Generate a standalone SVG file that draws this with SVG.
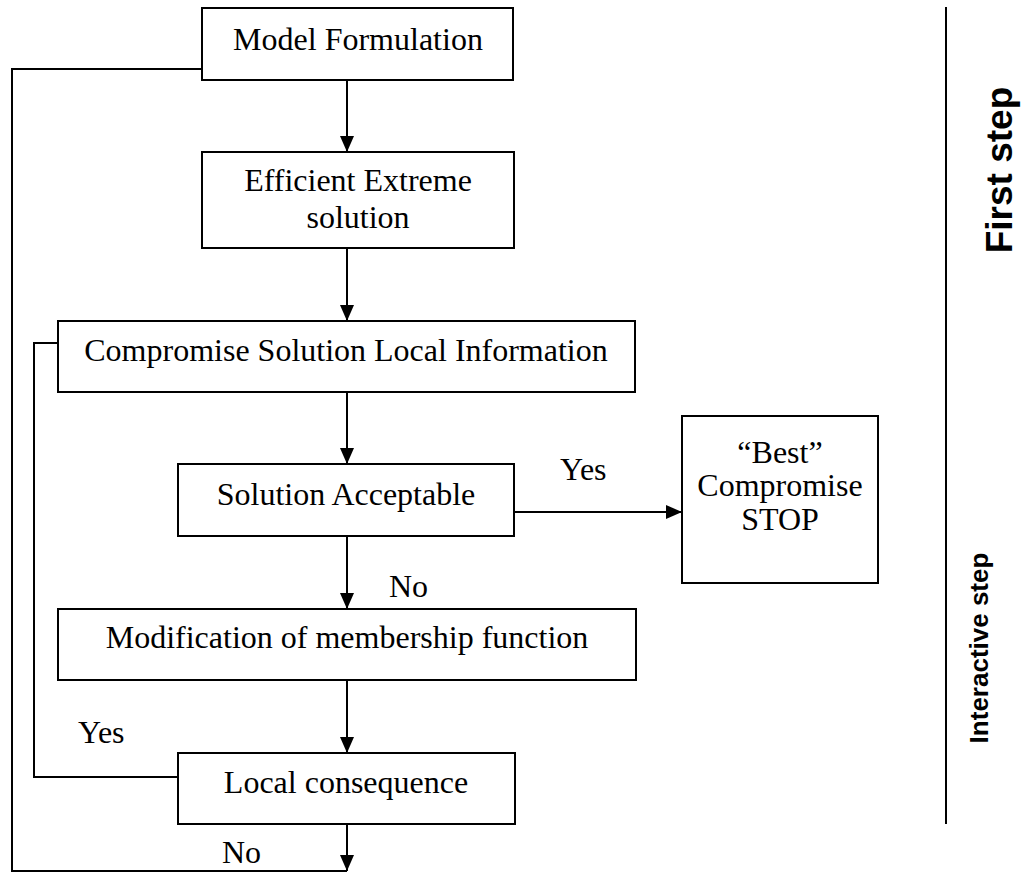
<svg xmlns="http://www.w3.org/2000/svg" width="1021" height="873" viewBox="0 0 1021 873">
  <style>
    .box { fill: #fff; stroke: #000; stroke-width: 2; }
    .wire { fill: none; stroke: #000; stroke-width: 2; }
  </style>
  <defs>
    <marker id="arrow" viewBox="0 0 16 14" refX="16" refY="7" markerWidth="16" markerHeight="14" markerUnits="userSpaceOnUse" orient="auto">
      <path d="M0,0 L16,7 L0,14 Z" fill="#000"/>
    </marker>
  </defs>

  <rect width="1021" height="873" fill="#fff"/>

  <g font-family="'Liberation Serif', 'Times New Roman', Times, serif" font-size="32" fill="#000">
    <!-- connectors -->
    <g id="connectors">
      <line class="wire" x1="347" y1="80" x2="347" y2="152" marker-end="url(#arrow)"/>
      <line class="wire" x1="347" y1="248" x2="347" y2="321" marker-end="url(#arrow)"/>
      <line class="wire" x1="347" y1="392" x2="347" y2="464" marker-end="url(#arrow)"/>
      <line class="wire" x1="347" y1="536" x2="347" y2="609" marker-end="url(#arrow)"/>
      <line class="wire" x1="347" y1="680" x2="347" y2="753" marker-end="url(#arrow)"/>
      <line class="wire" x1="347" y1="824" x2="347" y2="871" marker-end="url(#arrow)"/>
      <line class="wire" x1="514" y1="512" x2="682" y2="512" marker-end="url(#arrow)"/>
      <!-- outer return loop from model formulation -->
      <polyline class="wire" points="202,69 12,69 12,871 347,871"/>
      <!-- inner loop back to compromise solution -->
      <polyline class="wire" points="178,777 34,777 34,343 58,343"/>
      <text x="560" y="480">Yes</text>
      <text x="389" y="597">No</text>
      <text x="78" y="743">Yes</text>
      <text x="222" y="863">No</text>
    </g>

    <g id="model-formulation" text-anchor="middle">
      <rect class="box" x="202" y="8" width="311" height="72"/>
      <text x="358" y="50">Model Formulation</text>
    </g>

    <g id="efficient-extreme" text-anchor="middle">
      <rect class="box" x="202" y="152" width="312" height="96"/>
      <text x="358" y="191">Efficient Extreme</text>
      <text x="358" y="228">solution</text>
    </g>

    <g id="compromise-solution" text-anchor="middle">
      <rect class="box" x="58" y="321" width="577" height="71"/>
      <text x="346" y="361">Compromise Solution Local Information</text>
    </g>

    <g id="solution-acceptable" text-anchor="middle">
      <rect class="box" x="178" y="464" width="336" height="72"/>
      <text x="346" y="505">Solution Acceptable</text>
    </g>

    <g id="best-compromise" text-anchor="middle">
      <rect class="box" x="682" y="416" width="196" height="167"/>
      <text x="780" y="463">“Best”</text>
      <text x="780" y="496">Compromise</text>
      <text x="780" y="530">STOP</text>
    </g>

    <g id="modification" text-anchor="middle">
      <rect class="box" x="58" y="609" width="578" height="71"/>
      <text x="347" y="648">Modification of membership function</text>
    </g>

    <g id="local-consequence" text-anchor="middle">
      <rect class="box" x="178" y="753" width="337" height="71"/>
      <text x="346" y="793">Local consequence</text>
    </g>
  </g>

  <!-- phase divider and labels -->
  <g id="phases" font-family="'Liberation Sans', Arial, sans-serif" font-weight="bold" fill="#000" text-anchor="middle">
    <line x1="946" y1="7" x2="946" y2="824" stroke="#000" stroke-width="2"/>
    <text font-size="37" transform="translate(1012,170) rotate(-90)">First step</text>
    <text font-size="26" transform="translate(988,648) rotate(-90)">Interactive step</text>
  </g>
</svg>
